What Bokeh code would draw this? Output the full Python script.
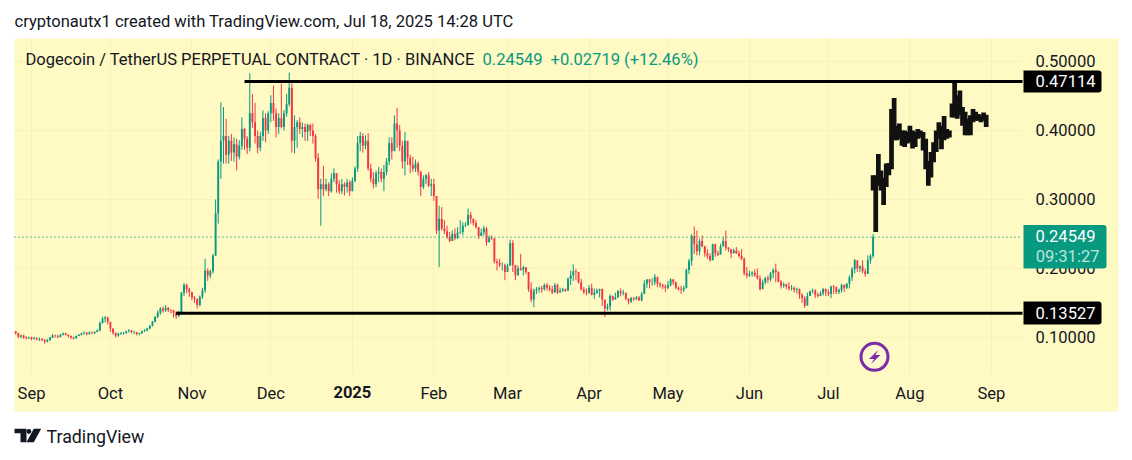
import pandas as pd
from bokeh.embed import file_html
from bokeh.models import (BoxAnnotation, FixedTicker, Grid, Label, LinearAxis, Range1d)
from bokeh.plotting import figure
from bokeh.resources import INLINE

# ---- data ----
open_first = 0.109
close_aug = [.106,.101,.103,.100,.099,.100]
high_aug  = [.109,.107,.104,.104,.102,.101]
low_aug   = [.104,.099,.099,.098,.097,.098]
close_sep = [.098,.099,.097,.098,.096,.094,.096,.100,.103,.102,.101,.104,.106,.104,.102,.100,.099,.102,.104,.106,.107,.105,.107,.106,.108,.110,.121,.127,.129,.123]
high_sep  = [.101,.101,.100,.100,.099,.098,.098,.101,.105,.104,.104,.105,.107,.107,.104,.103,.101,.103,.105,.107,.109,.108,.109,.109,.109,.112,.123,.130,.131,.130]
low_sep   = [.096,.097,.096,.095,.095,.091,.093,.095,.099,.100,.099,.100,.103,.103,.100,.098,.097,.098,.102,.103,.104,.103,.104,.105,.105,.108,.109,.120,.122,.119]
close_oct = [.113,.107,.103,.105,.106,.107,.109,.110,.108,.108,.105,.106,.109,.110,.113,.117,.123,.130,.136,.142,.139,.143,.140,.139,.136,.131,.137,.165,.176,.170,.166]
high_oct  = [.116,.113,.107,.107,.108,.108,.110,.112,.111,.110,.108,.107,.110,.112,.114,.118,.124,.131,.139,.144,.145,.147,.144,.141,.140,.138,.139,.166,.179,.178,.172]
low_oct   = [.108,.104,.100,.101,.104,.104,.105,.107,.106,.105,.103,.103,.105,.108,.109,.112,.116,.122,.128,.133,.136,.137,.137,.135,.129,.127,.129,.135,.160,.164,.159]
close_nov = [.158,.156,.147,.159,.168,.197,.190,.196,.219,.280,.355,.385,.392,.365,.385,.368,.380,.362,.378,.402,.388,.375,.425,.412,.392,.375,.392,.418,.400,.425]
high_nov  = [.165,.160,.156,.161,.172,.214,.200,.198,.221,.300,.358,.441,.434,.417,.392,.395,.390,.388,.386,.419,.404,.392,.483,.453,.440,.400,.398,.429,.425,.428]
low_nov   = [.154,.150,.142,.145,.156,.165,.182,.186,.193,.218,.265,.330,.352,.352,.352,.356,.355,.342,.358,.372,.372,.366,.370,.404,.381,.367,.370,.385,.383,.395]
close_dec = [.440,.425,.405,.418,.405,.425,.438,.462,.385,.405,.412,.402,.405,.398,.408,.400,.392,.360,.315,.322,.315,.322,.312,.330,.338,.322,.312,.322,.318,.325,.312]
high_dec  = [.451,.465,.432,.425,.468,.430,.453,.484,.468,.422,.415,.419,.412,.410,.410,.410,.410,.395,.367,.330,.349,.330,.325,.338,.345,.338,.328,.330,.325,.330,.328]
low_dec   = [.412,.414,.390,.395,.403,.400,.420,.435,.368,.367,.375,.395,.390,.385,.385,.392,.381,.355,.301,.262,.305,.312,.305,.310,.325,.310,.308,.308,.306,.310,.305]
close_jan = [.327,.345,.382,.392,.378,.385,.345,.330,.322,.338,.340,.330,.340,.355,.382,.370,.410,.400,.378,.355,.385,.360,.350,.345,.352,.340,.318,.330,.335,.320,.322]
high_jan  = [.332,.348,.392,.398,.396,.393,.396,.352,.340,.342,.347,.345,.350,.360,.390,.390,.422,.433,.408,.385,.398,.380,.365,.362,.358,.355,.342,.335,.337,.340,.330]
low_jan   = [.318,.325,.340,.370,.368,.373,.342,.325,.316,.318,.325,.325,.312,.335,.350,.358,.375,.375,.370,.345,.335,.350,.338,.340,.340,.335,.305,.315,.322,.318,.305]
close_feb = [.305,.255,.272,.258,.254,.246,.240,.250,.244,.252,.253,.262,.263,.278,.272,.266,.260,.247,.252,.258,.238,.245,.244,.210,.208,.205,.205,.195]
high_feb  = [.330,.305,.291,.289,.270,.262,.253,.255,.258,.260,.270,.267,.267,.287,.282,.272,.270,.260,.258,.262,.260,.248,.248,.243,.214,.214,.209,.207]
low_feb   = [.298,.250,.202,.255,.250,.243,.238,.243,.241,.243,.250,.248,.260,.262,.265,.262,.258,.243,.248,.248,.233,.238,.241,.207,.197,.202,.197,.183]
close_mar = [.204,.237,.205,.190,.200,.198,.202,.195,.170,.155,.168,.170,.172,.170,.176,.172,.170,.165,.176,.165,.168,.170,.168,.185,.190,.196,.195,.180,.170,.166,.165]
high_mar  = [.207,.242,.241,.204,.204,.221,.204,.200,.195,.180,.171,.173,.174,.175,.178,.179,.176,.175,.179,.178,.172,.172,.171,.187,.197,.206,.199,.192,.185,.173,.171]
low_mar   = [.202,.204,.195,.183,.197,.197,.190,.192,.166,.151,.144,.163,.165,.165,.168,.168,.167,.163,.168,.163,.166,.166,.166,.167,.176,.182,.183,.178,.168,.163,.161]
close_apr = [.172,.162,.165,.168,.170,.155,.142,.145,.160,.155,.158,.167,.164,.165,.156,.152,.157,.156,.158,.154,.163,.178,.184,.180,.180,.188,.178,.176,.174,.172]
high_apr  = [.176,.178,.171,.171,.171,.171,.151,.149,.163,.161,.165,.169,.171,.169,.163,.157,.159,.159,.160,.160,.166,.183,.185,.185,.186,.192,.186,.180,.178,.177]
low_apr   = [.163,.161,.156,.163,.158,.146,.130,.139,.139,.153,.155,.158,.160,.161,.154,.148,.150,.153,.154,.153,.152,.163,.172,.171,.175,.176,.173,.172,.170,.166]
close_may = [.176,.184,.180,.172,.170,.169,.172,.198,.211,.247,.235,.225,.240,.232,.222,.218,.212,.235,.222,.220,.232,.240,.230,.228,.222,.226,.222,.218,.214,.193,.190]
high_may  = [.182,.186,.185,.181,.174,.175,.175,.200,.214,.250,.261,.255,.243,.248,.233,.228,.222,.236,.236,.226,.236,.246,.255,.231,.228,.229,.231,.226,.228,.216,.202]
low_may   = [.170,.174,.176,.170,.168,.163,.166,.171,.192,.204,.221,.219,.219,.231,.217,.214,.210,.212,.217,.218,.222,.232,.226,.224,.215,.222,.221,.216,.212,.190,.186]
close_jun = [.192,.194,.190,.186,.170,.180,.186,.184,.193,.198,.195,.181,.175,.177,.174,.171,.172,.169,.170,.162,.157,.146,.160,.167,.168,.162,.160,.164,.170,.166]
high_jun  = [.197,.196,.199,.200,.190,.184,.188,.190,.195,.200,.207,.196,.183,.180,.178,.180,.176,.174,.172,.171,.164,.160,.165,.168,.171,.170,.165,.167,.172,.171]
low_jun   = [.188,.188,.188,.184,.168,.171,.177,.179,.181,.186,.180,.180,.171,.172,.170,.168,.168,.165,.164,.156,.150,.143,.151,.160,.164,.157,.158,.160,.161,.160]
close_jul = [.163,.174,.173,.166,.169,.176,.172,.178,.187,.199,.212,.200,.203,.196,.192,.212,.2183,.24549]
high_jul  = [.170,.175,.176,.174,.171,.178,.177,.179,.190,.202,.214,.205,.205,.212,.200,.219,.221,.250]
low_jul   = [.160,.157,.163,.163,.163,.165,.166,.170,.171,.182,.193,.195,.195,.193,.188,.197,.207,.215]

# black freehand pattern drawn over the chart (high / low per column)
black_high = [.335,.335,.366,.342,.332,.352,.353,.431,.447,.407,.410,.400,.400,.398,.407,.400,.398,.402,.400,.398,.388,.356,.369,.383,.400,.412,.407,.421,.402,.400,.439,.471,.451,.458,.434,.427,.417,.422,.431,.427,.424,.422,.426,.423]
black_low  = [.313,.253,.320,.313,.292,.318,.335,.344,.386,.386,.388,.378,.376,.381,.383,.374,.376,.388,.390,.371,.344,.320,.332,.354,.369,.388,.373,.386,.388,.390,.419,.419,.417,.422,.407,.393,.393,.393,.412,.414,.414,.412,.414,.405]

price_ticks = [0.1, 0.2, 0.3, 0.4, 0.5]
price_labels = ["0.10000", "0.20000", "0.30000", "0.40000", "0.50000"]
month_ticks = ["2024-09-01","2024-10-01","2024-11-01","2024-12-01","2025-02-01","2025-03-01","2025-04-01","2025-05-01","2025-06-01","2025-07-01","2025-08-01","2025-09-01"]
month_labels = ["Sep","Oct","Nov","Dec","Feb","Mar","Apr","May","Jun","Jul","Aug","Sep"]
year_tick = "2025-01-01"
year_label = "2025"
resistance = 0.47114
support = 0.13527
last_price = 0.24549
resistance_start = "2024-11-21"
support_start = "2024-10-26"
header = "cryptonautx1 created with TradingView.com, Jul 18, 2025 14:28 UTC"
legend_name = "Dogecoin / TetherUS PERPETUAL CONTRACT · 1D · BINANCE"
legend_price = "0.24549"
legend_change = "+0.02719 (+12.46%)"
countdown = "09:31:27"

close = close_aug+close_sep+close_oct+close_nov+close_dec+close_jan+close_feb+close_mar+close_apr+close_may+close_jun+close_jul
high = high_aug+high_sep+high_oct+high_nov+high_dec+high_jan+high_feb+high_mar+high_apr+high_may+high_jun+high_jul
low = low_aug+low_sep+low_oct+low_nov+low_dec+low_jan+low_feb+low_mar+low_apr+low_may+low_jun+low_jul
opens = [open_first] + close[:-1]

# ---- pixel <-> data mapping of the reference layout ----
DAY = 86400000.0
def ms(s):
    return pd.Timestamp(s).value / 1e6
T0 = ms("2024-09-01")
PX_PER_DAY = 2.63
def X(px):
    return T0 + (px - 31) / PX_PER_DAY * DAY
def Y(py):
    return 0.1 + (337 - py) / 690.0

UP = "#089981"
DOWN = "#F23645"
YELLOW = "#FFF9C4"
GRID = "#F8F1BC"
INK = "#131722"
PURPLE = "#7B2CA6"
FONT = "Roboto"
FS = "16.55px"

p = figure(width=1132, height=460, x_range=(X(0), X(1132)), y_range=(Y(460), Y(0)),
           x_axis_type=None, y_axis_type=None, min_border=0, outline_line_color=None,
           toolbar_location=None, output_backend="svg", background_fill_color="white")
p.extra_y_ranges = {"labels": Range1d(Y(461), Y(1))}

# pane
p.quad(left=[X(14)], right=[X(1118)], top=[Y(38)], bottom=[Y(411)], fill_color=YELLOW,
       line_color=None, level="image")

# grid
m_ticks = [ms(t) for t in month_ticks]
all_ticks = sorted(m_ticks + [ms(year_tick)])
p.add_layout(Grid(dimension=0, ticker=FixedTicker(ticks=all_ticks), grid_line_color=GRID, grid_line_width=1,
                  cross_bounds=(Y(374), Y(38))))
p.add_layout(Grid(dimension=1, ticker=FixedTicker(ticks=price_ticks), grid_line_color=GRID, grid_line_width=1,
                  cross_bounds=(X(14), X(1022))))

# candles
dates = pd.date_range("2024-08-26", periods=len(close))
xs = [d.value / 1e6 for d in dates]
colors = [UP if c >= o else DOWN for c, o in zip(close, opens)]
p.segment(x0=xs, x1=xs, y0=low, y1=high, line_color=colors, line_width=1)
p.vbar(x=xs, width=0.72 * DAY, top=[max(a, b) for a, b in zip(opens, close)],
       bottom=[min(a, b) for a, b in zip(opens, close)], fill_color=colors, line_color=None)

# black pattern
bx = [ms("2025-07-18") + i * DAY for i in range(len(black_high))]
p.vbar(x=bx, width=1.8 * DAY, top=black_high, bottom=black_low, fill_color="#111111", line_color=None)

# level lines
p.segment(x0=[ms(resistance_start), ms(support_start)], x1=[X(1022), X(1022)],
          y0=[resistance, support], y1=[resistance, support], line_color="black", line_width=3)
p.line(x=[X(14), X(1022)], y=[last_price, last_price], line_color=UP, line_width=1.2, line_dash=[1, 3])

# axes
xa = LinearAxis(fixed_location=Y(383), ticker=FixedTicker(ticks=m_ticks),
                major_label_overrides=dict(zip(m_ticks, month_labels)))
xb = LinearAxis(fixed_location=Y(385), ticker=FixedTicker(ticks=[ms(year_tick)]),
                major_label_overrides={ms(year_tick): year_label}, major_label_text_font_style="bold")
ya = LinearAxis(fixed_location=X(1095), y_range_name="labels", ticker=FixedTicker(ticks=price_ticks),
                major_label_overrides=dict(zip(price_ticks, price_labels)))
for ax, side in ((xa, "below"), (xb, "below"), (ya, "left")):
    ax.axis_line_color = None
    ax.major_tick_line_color = None
    ax.minor_tick_line_color = None
    ax.major_tick_in = 0
    ax.major_tick_out = 0
    ax.major_label_standoff = 0
    ax.major_label_text_font = FONT
    ax.major_label_text_font_size = FS
    ax.major_label_text_color = INK
    p.add_layout(ax, side)

# price boxes
def box(x0, x1, y0, y1, col):
    p.add_layout(BoxAnnotation(left=X(x0), right=X(x1), top=Y(y0), bottom=Y(y1), fill_color=col, fill_alpha=1,
                               line_color=None, border_radius=dict(top_left=0, top_right=3, bottom_right=3, bottom_left=0),
                               level="annotation"))
box(1023, 1101, 70, 92, "#000000")
box(1023, 1106, 224.5, 268, UP)
box(1023, 1101, 301, 324, "#000000")

def text(s, px, py, color=INK, size=FS, align="left"):
    p.add_layout(Label(x=X(px), y=Y(py), text=s, text_color=color, text_font=FONT, text_font_size=size,
                       text_align=align, text_baseline="middle", level="overlay"))

text(f"{resistance:.5f}", 1095, 80, "white", align="right")
text(f"{last_price:.5f}", 1095, 235.5, "white", align="right")
text(countdown, 1099, 255.5, "#BDE5DC", align="right")
text(f"{support:.5f}", 1095, 312, "white", align="right")
text(header, 14, 20.5)
text(legend_name, 25, 58.5)
text(legend_price, 482, 58.5, UP)
text(legend_change, 550, 58.5, UP)
text("TradingView", 46, 435.5, "#131722", size="17.8px")

# purple event marker
p.scatter(x=[X(874)], y=[Y(356.3)], size=27, marker="circle", fill_color="#FFF9D0", line_color=PURPLE, line_width=3)
p.patch(x=[X(v) for v in (877.5, 868.5, 873.5, 870.5, 880, 875)], y=[Y(v) for v in (349.5, 358.5, 358.5, 363.5, 354.5, 354.5)],
        fill_color=PURPLE, line_color=None)

# TradingView logo
p.patch(x=[X(v) for v in (14, 26, 26, 20, 20, 14)], y=[Y(v) for v in (428.3, 428.3, 441.7, 441.7, 432.7, 432.7)],
        fill_color=INK, line_color=None)
p.scatter(x=[X(28.4)], y=[Y(431)], size=4.8, marker="circle", fill_color=INK, line_color=None)
p.patch(x=[X(v) for v in (33.3, 40.7, 33.3, 26)], y=[Y(v) for v in (428.3, 428.3, 441.7, 441.7)],
        fill_color=INK, line_color=None)

open("out.html", "w").write(file_html(p, INLINE))
